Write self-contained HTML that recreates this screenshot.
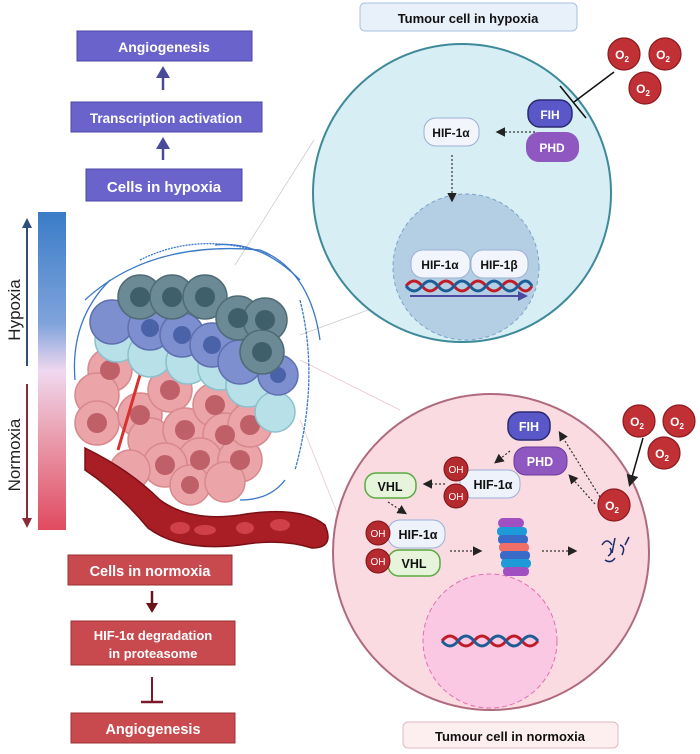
<!DOCTYPE html>
<html><head><meta charset="utf-8"><style>
html,body{margin:0;padding:0;background:#fff;}
svg{display:block;font-family:"Liberation Sans",sans-serif;}
</style></head><body>
<svg width="700" height="754" viewBox="0 0 700 754" xmlns="http://www.w3.org/2000/svg">
<defs>
<linearGradient id="gb" x1="0" y1="0" x2="0" y2="1">
<stop offset="0" stop-color="#3a7cc8"/><stop offset="0.35" stop-color="#7fa3db"/><stop offset="0.5" stop-color="#f0d8f0"/><stop offset="0.7" stop-color="#eaa0b0"/><stop offset="1" stop-color="#e04a60"/>
</linearGradient>
<marker id="ah" markerWidth="8" markerHeight="8" refX="6" refY="4" orient="auto"><path d="M0,0 L8,4 L0,8z" fill="#222"/></marker>
</defs>

<line x1="235" y1="265" x2="314" y2="140" stroke="#ccc" stroke-width="0.8"/>
<line x1="300" y1="335" x2="395" y2="300" stroke="#ccc" stroke-width="0.8"/>
<line x1="300" y1="360" x2="400" y2="410" stroke="#e8c8cc" stroke-width="0.8"/>
<line x1="300" y1="420" x2="340" y2="520" stroke="#e8c8cc" stroke-width="0.8"/>

<rect x="77" y="31" width="175" height="30" fill="#6a63cc" stroke="#4d47a8"/>
<text x="164" y="52" fill="#fff" font-size="14" font-weight="bold" text-anchor="middle">Angiogenesis</text>
<line x1="163" y1="90" x2="163" y2="75" stroke="#4a4a9a" stroke-width="2.5"/><path d="M156,78 L163,66 L170,78z" fill="#4a4a9a"/>
<rect x="71" y="102" width="191" height="30" fill="#6a63cc" stroke="#4d47a8"/>
<text x="166" y="123" fill="#fff" font-size="13.5" font-weight="bold" text-anchor="middle">Transcription activation</text>
<line x1="163" y1="160" x2="163" y2="146" stroke="#4a4a9a" stroke-width="2.5"/><path d="M156,149 L163,137 L170,149z" fill="#4a4a9a"/>
<rect x="86" y="169" width="156" height="32" fill="#6a63cc" stroke="#4d47a8"/>
<text x="164" y="192" fill="#fff" font-size="15" font-weight="bold" text-anchor="middle">Cells in hypoxia</text>

<rect x="38" y="212" width="28" height="318" fill="url(#gb)"/>
<line x1="27" y1="366" x2="27" y2="226" stroke="#2e4f7a" stroke-width="2"/><path d="M22,228 L27,218 L32,228z" fill="#2e4f7a"/>
<line x1="27" y1="384" x2="27" y2="520" stroke="#8a2a3a" stroke-width="2"/><path d="M22,518 L27,528 L32,518z" fill="#8a2a3a"/>
<text transform="translate(20,310) rotate(-90)" font-size="17" fill="#222" text-anchor="middle">Hypoxia</text>
<text transform="translate(20,455) rotate(-90)" font-size="17" fill="#222" text-anchor="middle">Normoxia</text>

<!-- tumour -->
<g>
<g fill="none" stroke="#3a78c8" stroke-width="1.3">
<path d="M85,300 Q150,240 260,250 Q310,270 320,340"/>
<path d="M140,260 Q200,230 270,255" stroke-dasharray="2 1"/>
<path d="M75,380 Q70,320 110,280"/>
<path d="M300,300 Q320,380 295,470" stroke-dasharray="3 1"/>
<path d="M285,480 Q270,500 240,500"/>
<path d="M215,245 Q260,240 300,280"/>
</g>
<g fill="#eba4a8" stroke="#d8898d" stroke-width="1.5">
<circle cx="110" cy="370" r="22"/><circle cx="97" cy="395" r="22"/><circle cx="97" cy="423" r="22"/><circle cx="140" cy="415" r="22"/>
<circle cx="170" cy="390" r="22"/><circle cx="150" cy="440" r="22"/><circle cx="185" cy="430" r="22"/><circle cx="215" cy="405" r="22"/>
<circle cx="225" cy="435" r="22"/><circle cx="200" cy="460" r="22"/><circle cx="165" cy="465" r="22"/><circle cx="240" cy="460" r="22"/>
<circle cx="250" cy="425" r="22"/><circle cx="130" cy="470" r="20"/><circle cx="190" cy="485" r="20"/><circle cx="225" cy="482" r="20"/>
</g>
<g fill="#bf6068"><circle cx="110" cy="370" r="10"/><circle cx="97" cy="423" r="10"/><circle cx="140" cy="415" r="10"/><circle cx="170" cy="390" r="10"/><circle cx="185" cy="430" r="10"/><circle cx="215" cy="405" r="10"/><circle cx="225" cy="435" r="10"/><circle cx="200" cy="460" r="10"/><circle cx="165" cy="465" r="10"/><circle cx="240" cy="460" r="10"/><circle cx="250" cy="425" r="10"/><circle cx="190" cy="485" r="9"/></g>
<path d="M118,450 L140,375 L128,345" fill="none" stroke="#d93030" stroke-width="3"/>
<g fill="#b8e0e8" stroke="#8cc0cc" stroke-width="1.5">
<circle cx="117" cy="340" r="22"/><circle cx="150" cy="355" r="22"/><circle cx="188" cy="362" r="22"/><circle cx="220" cy="368" r="22"/><circle cx="248" cy="385" r="22"/><circle cx="275" cy="412" r="20"/>
</g>
<g fill="#7e8fd0" stroke="#5e70b0" stroke-width="1.5">
<circle cx="112" cy="322" r="22"/><circle cx="150" cy="328" r="22"/><circle cx="182" cy="335" r="22"/><circle cx="212" cy="345" r="22"/><circle cx="240" cy="362" r="22"/><circle cx="278" cy="375" r="20"/>
</g>
<g fill="#4a62a8"><circle cx="150" cy="328" r="9"/><circle cx="182" cy="335" r="9"/><circle cx="212" cy="345" r="9"/><circle cx="278" cy="375" r="8"/></g>
<g fill="#6b8a95" stroke="#4f6b75" stroke-width="1.5">
<circle cx="140" cy="297" r="22"/><circle cx="172" cy="297" r="22"/><circle cx="205" cy="297" r="22"/><circle cx="238" cy="318" r="22"/><circle cx="265" cy="320" r="22"/><circle cx="262" cy="352" r="22"/>
</g>
<g fill="#3f5f6a"><circle cx="140" cy="297" r="10"/><circle cx="172" cy="297" r="10"/><circle cx="205" cy="297" r="10"/><circle cx="238" cy="318" r="10"/><circle cx="265" cy="320" r="10"/><circle cx="262" cy="352" r="10"/></g>
<path d="M85,448 Q130,470 160,500 Q190,522 240,515 Q300,505 325,525 Q335,548 312,548 Q280,538 240,545 Q180,552 148,528 Q118,492 85,470z" fill="#a81e24" stroke="#7a1015" stroke-width="1.5"/>
<g fill="#d04048"><ellipse cx="180" cy="528" rx="10" ry="6"/><ellipse cx="205" cy="530" rx="11" ry="5"/><ellipse cx="245" cy="528" rx="9" ry="6"/><ellipse cx="280" cy="525" rx="10" ry="6"/></g>
</g>

<rect x="68" y="555" width="164" height="30" fill="#c94a4e" stroke="#9a3034"/>
<text x="150" y="576" fill="#fff" font-size="14.5" font-weight="bold" text-anchor="middle">Cells in normoxia</text>
<line x1="152" y1="591" x2="152" y2="605" stroke="#6a1418" stroke-width="2.5"/><path d="M146,603 L152,613 L158,603z" fill="#6a1418"/>
<rect x="71" y="621" width="164" height="44" fill="#c94a4e" stroke="#9a3034"/>
<text x="153" y="640" fill="#fff" font-size="13" font-weight="bold" text-anchor="middle">HIF-1α degradation</text>
<text x="153" y="658" fill="#fff" font-size="13" font-weight="bold" text-anchor="middle">in proteasome</text>
<line x1="152" y1="677" x2="152" y2="702" stroke="#7a1a2a" stroke-width="2"/><line x1="141" y1="702" x2="163" y2="702" stroke="#7a1a2a" stroke-width="2.5"/>
<rect x="71" y="713" width="164" height="30" fill="#c94a4e" stroke="#9a3034"/>
<text x="153" y="734" fill="#fff" font-size="14.5" font-weight="bold" text-anchor="middle">Angiogenesis</text>

<rect x="360" y="3" width="217" height="28" rx="5" fill="#e8f0fa" stroke="#a8c0e0"/>
<text x="468" y="23" font-size="13" font-weight="bold" text-anchor="middle" fill="#111">Tumour cell in hypoxia</text>
<circle cx="462" cy="193" r="149" fill="#d6eef4" stroke="#3e8a9a" stroke-width="2"/>
<circle cx="466" cy="267" r="73" fill="#b4cfe4" stroke="#7ca2c8" stroke-width="1" stroke-dasharray="4 3"/>
<g font-size="12" font-weight="bold" text-anchor="middle">
<rect x="424" y="118" width="55" height="28" rx="12" fill="#f2f6fc" stroke="#9ab0d8"/><text x="451" y="137" fill="#111">HIF-1α</text>
<rect x="528" y="100" width="44" height="27" rx="12" fill="#5a57c8" stroke="#2a2a70" stroke-width="1.5"/><text x="550" y="119" fill="#fff">FIH</text>
<rect x="526" y="132" width="53" height="30" rx="13" fill="#8e58c0"/><text x="552" y="152" fill="#fff">PHD</text>
<rect x="411" y="250" width="59" height="28" rx="12" fill="#f2f6fc" stroke="#9ab0d8"/><text x="440" y="269" fill="#111">HIF-1α</text>
<rect x="471" y="250" width="57" height="28" rx="12" fill="#f2f6fc" stroke="#9ab0d8"/><text x="499" y="269" fill="#111">HIF-1β</text>
</g>
<line x1="535" y1="132" x2="498" y2="132" stroke="#333" stroke-dasharray="2 2" stroke-width="1.2" marker-end="url(#ah)"/>
<line x1="452" y1="155" x2="452" y2="200" stroke="#333" stroke-dasharray="2 2" stroke-width="1.2" marker-end="url(#ah)"/>
<path d="M406,286 q8,-10 16,0 t16,0 t16,0 t16,0 t16,0 t16,0 t16,0 t14,0" fill="none" stroke="#c01c28" stroke-width="3"/>
<path d="M406,286 q8,10 16,0 t16,0 t16,0 t16,0 t16,0 t16,0 t16,0 t14,0" fill="none" stroke="#1e5c96" stroke-width="3"/>
<line x1="410" y1="296" x2="520" y2="296" stroke="#4a4aa0" stroke-width="2"/><path d="M518,291 L528,296 L518,301z" fill="#4a4aa0"/>
<line x1="614" y1="72" x2="574" y2="102" stroke="#111" stroke-width="1.5"/>
<line x1="560" y1="86" x2="586" y2="118" stroke="#111" stroke-width="1.5"/>

<circle cx="491" cy="552" r="158" fill="#fbdbe2" stroke="#b06a80" stroke-width="2"/>
<circle cx="490" cy="641" r="67" fill="#fbc8e4" stroke="#e070b0" stroke-width="1" stroke-dasharray="5 3"/>
<path d="M442,641 q8,-10 16,0 t16,0 t16,0 t16,0 t16,0 t16,0" fill="none" stroke="#c01c28" stroke-width="3"/>
<path d="M442,641 q8,10 16,0 t16,0 t16,0 t16,0 t16,0 t16,0" fill="none" stroke="#1e5c96" stroke-width="3"/>
<rect x="403" y="722" width="215" height="26" rx="5" fill="#fdeef0" stroke="#e0b8c0"/>
<text x="510" y="741" font-size="13" font-weight="bold" text-anchor="middle" fill="#111">Tumour cell in normoxia</text>
<g font-size="12.5" font-weight="bold" text-anchor="middle">
<rect x="508" y="412" width="42" height="28" rx="12" fill="#5a57c8" stroke="#2a2a70" stroke-width="1.5"/><text x="529" y="431" fill="#fff">FIH</text>
<rect x="514" y="447" width="53" height="28" rx="12" fill="#8e58c0" stroke="#6a3a9a"/><text x="540" y="466" fill="#fff">PHD</text>
<rect x="460" y="470" width="60" height="28" rx="12" fill="#eef2fa" stroke="#9ab0d8"/><text x="493" y="489" fill="#111">HIF-1α</text>
<rect x="365" y="473" width="51" height="25" rx="11" fill="#e6f4dc" stroke="#5aaa40" stroke-width="1.5"/><text x="390" y="491" fill="#111">VHL</text>
<rect x="388" y="520" width="57" height="28" rx="12" fill="#eef2fa" stroke="#9ab0d8"/><text x="418" y="539" fill="#111">HIF-1α</text>
<rect x="388" y="550" width="52" height="26" rx="11" fill="#e6f4dc" stroke="#5aaa40" stroke-width="1.5"/><text x="414" y="568" fill="#111">VHL</text>
</g>
<g fill="#b52a2e" stroke="#7a1416" stroke-width="1">
<circle cx="456" cy="469" r="12"/><circle cx="456" cy="496" r="12"/><circle cx="378" cy="533" r="12"/><circle cx="378" cy="561" r="12"/>
</g>
<g fill="#fff" font-size="10" text-anchor="middle">
<text x="456" y="473">OH</text><text x="456" y="500">OH</text><text x="378" y="537">OH</text><text x="378" y="565">OH</text>
</g>
<line x1="510" y1="451" x2="496" y2="462" stroke="#333" stroke-dasharray="2 2" stroke-width="1.2" marker-end="url(#ah)"/>
<line x1="445" y1="484" x2="425" y2="484" stroke="#333" stroke-dasharray="2 2" stroke-width="1.2" marker-end="url(#ah)"/>
<line x1="388" y1="502" x2="405" y2="513" stroke="#333" stroke-dasharray="2 2" stroke-width="1.2" marker-end="url(#ah)"/>
<line x1="450" y1="551" x2="480" y2="551" stroke="#333" stroke-dasharray="2 2" stroke-width="1.2" marker-end="url(#ah)"/>
<line x1="542" y1="551" x2="575" y2="551" stroke="#333" stroke-dasharray="2 2" stroke-width="1.2" marker-end="url(#ah)"/>
<line x1="600" y1="497" x2="560" y2="433" stroke="#333" stroke-dasharray="2 2" stroke-width="1.2" marker-end="url(#ah)"/>
<line x1="595" y1="504" x2="570" y2="476" stroke="#333" stroke-dasharray="2 2" stroke-width="1.2" marker-end="url(#ah)"/>
<line x1="643" y1="438" x2="630" y2="484" stroke="#111" stroke-width="1.5" marker-end="url(#ah)"/>
<g>
<rect x="498" y="518" width="26" height="10" rx="5" fill="#a050c0"/>
<rect x="497" y="527" width="30" height="9" rx="4" fill="#1e9ad8"/>
<rect x="498" y="535" width="30" height="9" rx="4" fill="#3a6ac8"/>
<rect x="499" y="543" width="30" height="9" rx="4" fill="#f07068"/>
<rect x="500" y="551" width="30" height="9" rx="4" fill="#3a6ac8"/>
<rect x="501" y="559" width="30" height="9" rx="4" fill="#1e9ad8"/>
<rect x="503" y="567" width="26" height="9" rx="4" fill="#a050c0"/>
</g>
<g fill="none" stroke="#1a2a6a" stroke-width="1.5">
<path d="M602,545 q5,-8 10,0 M615,538 l-3,15 M620,545 q6,2 2,10 M605,560 q6,4 10,-2 M625,545 l4,-8 M610,548 q3,5 -2,8"/>
</g>

<g fill="#c03034" stroke="#8a1a1e" stroke-width="1.2">
<circle cx="624" cy="54" r="16"/><circle cx="665" cy="54" r="16"/><circle cx="645" cy="88" r="16"/>
<circle cx="639" cy="421" r="16"/><circle cx="679" cy="421" r="16"/><circle cx="664" cy="453" r="16"/><circle cx="614" cy="505" r="16"/>
</g>
<g fill="#fff" font-size="12" font-weight="bold" text-anchor="middle">
<text x="622" y="59">O<tspan font-size="8" dy="3">2</tspan></text>
<text x="663" y="59">O<tspan font-size="8" dy="3">2</tspan></text>
<text x="643" y="93">O<tspan font-size="8" dy="3">2</tspan></text>
<text x="637" y="426">O<tspan font-size="8" dy="3">2</tspan></text>
<text x="677" y="426">O<tspan font-size="8" dy="3">2</tspan></text>
<text x="662" y="458">O<tspan font-size="8" dy="3">2</tspan></text>
<text x="612" y="510">O<tspan font-size="8" dy="3">2</tspan></text>
</g>
</svg>
</body></html>
